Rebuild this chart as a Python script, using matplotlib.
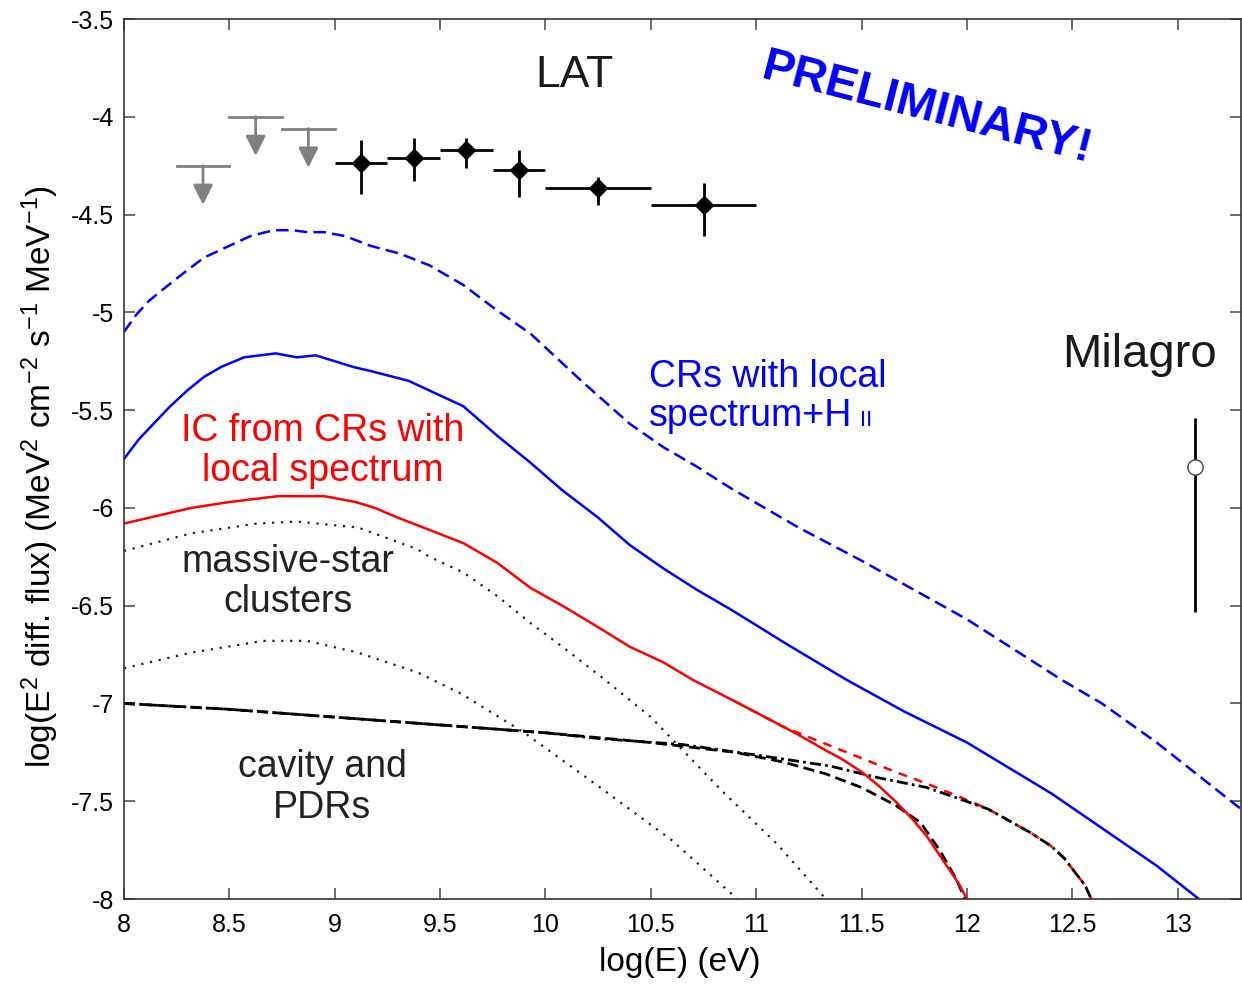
import matplotlib
matplotlib.use("Agg")
import matplotlib.pyplot as plt
from matplotlib.ticker import MultipleLocator, FormatStrFormatter

plt.rcParams['font.family'] = ['Liberation Sans', 'DejaVu Sans']
plt.rcParams['mathtext.fontset'] = 'custom'
plt.rcParams['mathtext.rm'] = 'Liberation Sans'
plt.rcParams['mathtext.it'] = 'Liberation Sans:italic'

# CRs with local spectrum + H II (blue dashed)
crs_hii_x = [8.0, 8.06, 8.12, 8.2, 8.27, 8.38, 8.5, 8.6, 8.71, 8.8, 8.87, 8.95,
             9.05, 9.17, 9.31, 9.45, 9.61, 9.77, 9.93, 10.08, 10.17, 10.40, 10.56,
             10.72, 10.88, 11.2, 11.5, 12.0, 12.45, 12.64, 12.9, 13.1, 13.3]
crs_hii_y = [-5.10, -5.01, -4.94, -4.87, -4.81, -4.72, -4.66, -4.61, -4.58, -4.58,
             -4.59, -4.59, -4.61, -4.66, -4.70, -4.76, -4.86, -4.99, -5.11, -5.26,
             -5.35, -5.57, -5.69, -5.79, -5.90, -6.10, -6.27, -6.57, -6.88, -7.00,
             -7.20, -7.37, -7.54]

# CRs with local spectrum (blue solid)
crs_x = [8.0, 8.07, 8.14, 8.22, 8.30, 8.38, 8.46, 8.57, 8.72, 8.82, 8.91, 9.0,
         9.09, 9.17, 9.35, 9.45, 9.61, 9.77, 9.93, 10.08, 10.25, 10.40, 10.56,
         10.72, 10.88, 11.15, 11.43, 11.7, 12.0, 12.4, 12.63, 12.9, 13.1]
crs_y = [-5.75, -5.65, -5.57, -5.48, -5.40, -5.33, -5.28, -5.23, -5.21, -5.23,
         -5.22, -5.25, -5.28, -5.30, -5.35, -5.40, -5.48, -5.63, -5.77, -5.91,
         -6.05, -6.19, -6.31, -6.42, -6.52, -6.70, -6.88, -7.04, -7.20, -7.46,
         -7.63, -7.83, -8.0]

# IC from CRs with local spectrum (red solid)
ic_x = [8.0, 8.16, 8.32, 8.5, 8.73, 8.95, 9.1, 9.19, 9.30, 9.42, 9.61, 9.77,
        9.93, 10.08, 10.25, 10.40, 10.56, 10.70, 10.9, 11.13, 11.2, 11.33, 11.4,
        11.50, 11.58, 11.66, 11.74, 11.81, 11.86, 11.91, 11.96, 12.0]
ic_y = [-6.08, -6.04, -6.00, -5.97, -5.94, -5.94, -5.97, -6.00, -6.05, -6.10,
        -6.18, -6.28, -6.41, -6.50, -6.61, -6.71, -6.79, -6.88, -6.99, -7.12,
        -7.16, -7.24, -7.28, -7.35, -7.42, -7.50, -7.59, -7.68, -7.76, -7.84,
        -7.92, -8.0]

# IC, harder variant (red dashed)
ic2_x = [10.9, 11.13, 11.29, 11.50, 11.66, 11.81, 11.97, 12.1, 12.2, 12.3, 12.4,
         12.46, 12.51, 12.56, 12.59]
ic2_y = [-6.99, -7.12, -7.19, -7.28, -7.35, -7.41, -7.48, -7.54, -7.60, -7.66,
         -7.73, -7.79, -7.86, -7.93, -8.0]

# massive-star clusters (dotted)
msc_hi_x = [8.0, 8.32, 8.63, 8.82, 9.11, 9.39, 9.45, 9.61, 9.77, 9.93, 10.08,
            10.26, 10.5, 10.84, 11.1, 11.33]
msc_hi_y = [-6.22, -6.13, -6.08, -6.07, -6.10, -6.21, -6.25, -6.33, -6.45, -6.59,
            -6.71, -6.86, -7.07, -7.45, -7.72, -8.0]
msc_lo_x = [8.0, 8.32, 8.66, 8.87, 9.11, 9.39, 9.6, 9.9, 10.26, 10.6, 10.91]
msc_lo_y = [-6.82, -6.74, -6.68, -6.68, -6.74, -6.84, -6.95, -7.15, -7.43, -7.70,
            -8.0]

# cavity and PDRs (dash-dot and dashed)
cav_x = [8.0, 8.5, 9.0, 9.5, 10.0, 10.26, 10.65, 11.04, 11.35, 11.58, 11.81,
         11.97, 12.1, 12.2, 12.3, 12.4, 12.46, 12.51, 12.56, 12.59]
cav_y = [-7.00, -7.03, -7.07, -7.11, -7.15, -7.18, -7.21, -7.27, -7.32, -7.38,
         -7.43, -7.49, -7.54, -7.60, -7.66, -7.73, -7.79, -7.86, -7.93, -8.0]
cav2_x = [8.0, 8.5, 9.0, 9.5, 10.0, 10.5, 10.9, 11.13, 11.33, 11.50, 11.66,
          11.78, 11.87, 11.95, 11.99]
cav2_y = [-7.00, -7.03, -7.07, -7.11, -7.15, -7.20, -7.25, -7.30, -7.36, -7.43,
          -7.52, -7.61, -7.75, -7.90, -8.0]

# LAT data
lat_x = [9.125, 9.375, 9.625, 9.875, 10.25, 10.75]
lat_xerr = [0.125, 0.125, 0.125, 0.125, 0.25, 0.25]
lat_y = [-4.235, -4.21, -4.17, -4.27, -4.365, -4.45]
lat_ylo = [-4.395, -4.33, -4.26, -4.41, -4.45, -4.61]
lat_yhi = [-4.12, -4.11, -4.11, -4.17, -4.31, -4.34]
ul_x = [8.375, 8.625, 8.875]
ul_y = [-4.25, -4.0, -4.06]

# Milagro
mil_x = [13.08]
mil_y = [-5.79]
mil_lo = [-6.53]
mil_hi = [-5.54]

fig = plt.figure(figsize=(12.42, 9.85), dpi=100)
ax = fig.add_axes([0.0998, 0.0873, 0.8994, 0.8934])

ax.plot(crs_hii_x, crs_hii_y, color='#0000ff', lw=1.8, dashes=(5, 2.5))
ax.plot(crs_x, crs_y, color='#0000ff', lw=1.8)
ax.plot(ic2_x, ic2_y, color='#ff0000', lw=1.8, dashes=(3.5, 3))
ax.plot(cav_x, cav_y, color='black', lw=2, dashes=(4, 1.5, 1, 1.5))
ax.plot(cav2_x, cav2_y, color='black', lw=2, dashes=(4, 2))
ax.plot(ic_x, ic_y, color='#ff0000', lw=1.8)
ax.plot(msc_hi_x, msc_hi_y, color='#222222', lw=1.6, dashes=(1, 3))
ax.plot(msc_lo_x, msc_lo_y, color='#222222', lw=1.6, dashes=(1, 3))

# LAT points
yerr = [[y - lo for y, lo in zip(lat_y, lat_ylo)], [hi - y for y, hi in zip(lat_y, lat_yhi)]]
ax.errorbar(lat_x, lat_y, xerr=lat_xerr, yerr=yerr, fmt='D', color='black',
            ms=9, elinewidth=2, capsize=0)
for x, y in zip(ul_x, ul_y):
    ax.plot([x - 0.125, x + 0.125], [y, y], color='#808080', lw=2)
    ax.annotate('', xy=(x, y - 0.2), xytext=(x, y),
                arrowprops=dict(arrowstyle='-|>,head_length=1.2,head_width=0.6',
                                color='#808080', lw=2, shrinkA=0, shrinkB=0))

# Milagro
ax.errorbar(mil_x, mil_y, yerr=[[mil_y[0] - mil_lo[0]], [mil_hi[0] - mil_y[0]]],
            fmt='o', color='black', mfc='white', mec='#444444', ms=11, mew=1,
            elinewidth=2, capsize=0)

ax.set_xlim(8, 13.3)
ax.set_ylim(-8, -3.5)
ax.xaxis.set_major_locator(MultipleLocator(0.5))
ax.yaxis.set_major_locator(MultipleLocator(0.5))
ax.xaxis.set_major_formatter(FormatStrFormatter('%g'))
ax.yaxis.set_major_formatter(FormatStrFormatter('%g'))
ax.tick_params(direction='in', length=8, width=1.2, color='#555555',
               labelsize=18, top=True, right=True, pad=7)
ax.tick_params(axis='x', pad=10)
for s in ax.spines.values():
    s.set_linewidth(1.2)
    s.set_color('#333333')

ax.set_xlabel('log(E) (eV)', fontsize=24)
ax.set_ylabel(r'log(E$^2$ diff. flux) (MeV$^2$ cm$^{-2}$ s$^{-1}$ MeV$^{-1}$)', fontsize=24)
ax.xaxis.set_label_coords(0.498, -0.054)
ax.yaxis.set_label_coords(-0.056, 0.48)

ax.text(10.14, -3.79, 'LAT', fontsize=32, color='#1a1a1a', ha='center', va='center')
ax.text(12.82, -5.22, 'Milagro', fontsize=34, color='#1a1a1a', ha='center', va='center')
ax.text(11.81, -3.96, 'PRELIMINARY!', fontsize=34, fontweight='bold', color='#0000ff',
        ha='center', va='center', rotation=-14.5, rotation_mode='anchor')
ax.text(8.945, -5.71, 'IC from CRs with\nlocal spectrum', fontsize=27, color='#ff0000',
        ha='center', va='center', linespacing=1.15)
ax.text(8.78, -6.38, 'massive-star\nclusters', fontsize=27, color='#222222',
        ha='center', va='center', linespacing=1.15)
ax.text(8.94, -7.43, 'cavity and\nPDRs', fontsize=27, color='#222222',
        ha='center', va='center', linespacing=1.15)
ax.text(10.49, -5.38, 'CRs with local', fontsize=27, color='#0000ff', va='baseline')
t2 = ax.text(10.49, -5.58, 'spectrum+H', fontsize=27, color='#0000ff', va='baseline')
fig.canvas.draw()
bb = t2.get_window_extent()
xd = ax.transData.inverted().transform((bb.x1 + 8, 0))[0]
ax.text(xd, -5.58, 'II', fontsize=16, color='#0000ff', va='baseline')

fig.savefig('out.png', dpi=100)
